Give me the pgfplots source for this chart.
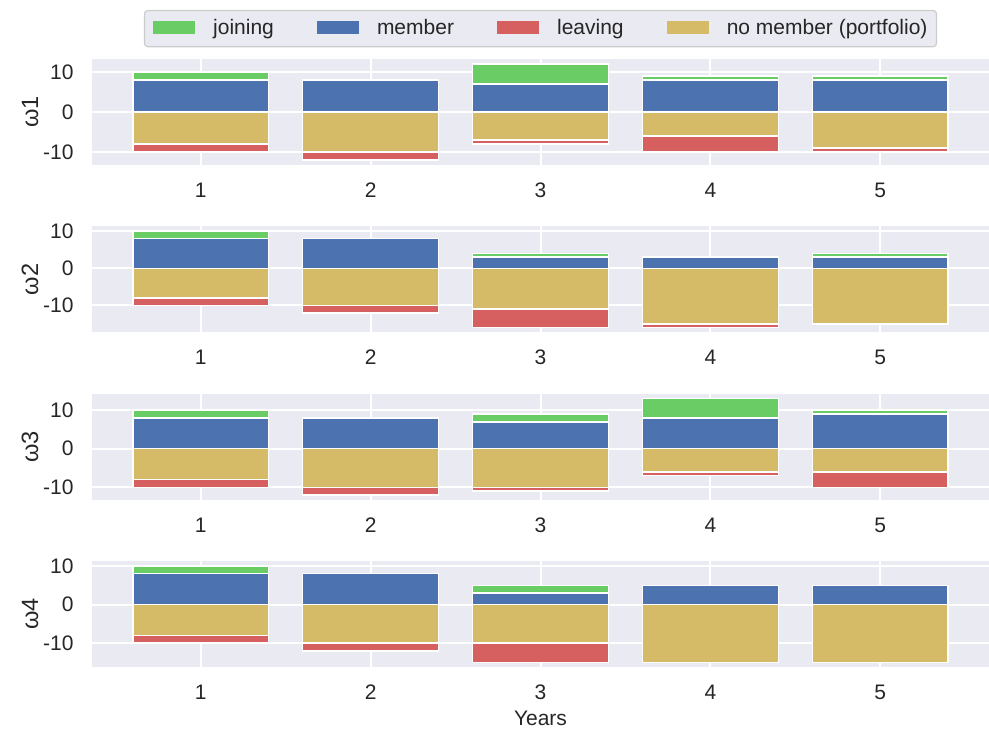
\documentclass[border=0pt]{standalone}
\usepackage{pgfplots}
\pgfplotsset{compat=1.18}
\usepackage{pgfplotstable}
\usepackage{fontspec}
\setmainfont{Liberation Sans}
\definecolor{bg}{HTML}{EAEAF2}
\definecolor{cjoin}{HTML}{6ACC64}
\definecolor{cmem}{HTML}{4C72B0}
\definecolor{cleave}{HTML}{D65F5F}
\definecolor{cnon}{HTML}{D5BB67}
\definecolor{txt}{HTML}{262626}
\definecolor{lgray}{HTML}{CCCCCC}

\pgfplotstableread{
year member joining nomember leaving
1 8 2 8 2
2 8 0 10 2
3 7 5 7 1
4 8 1 6 4
5 8 1 9 1
}\wone
\pgfplotstableread{
year member joining nomember leaving
1 8 2 8 2
2 8 0 10 2
3 3 1 11 5
4 3 0 15 1
5 3 1 15 0
}\wtwo
\pgfplotstableread{
year member joining nomember leaving
1 8 2 8 2
2 8 0 10 2
3 7 2 10 1
4 8 5 6 1
5 9 1 6 4
}\wthree
\pgfplotstableread{
year member joining nomember leaving
1 8 2 8 2
2 8 0 10 2
3 3 2 10 5
4 5 0 15 0
5 5 0 15 0
}\wfour

\newcommand{\fs}{\fontsize{10.5}{12.6}\selectfont}
\newcommand{\fl}{\fontsize{11.8}{14}\selectfont}

\pgfplotsset{
  seg/.style={ybar, bar width=0.8, bar shift=0pt, draw=white, line width=0.75pt,
    legend image code/.code={\path[##1, draw=none, sharp corners] (0pt,0.4pt) rectangle (21pt,6.9pt);}},
  panel/.style={
    anchor=north west,
    scale only axis, width=448.5pt, height=53pt,
    xmin=0.36, xmax=5.64,
    xtick={1,2,3,4,5}, xticklabels={1,2,3,4,5},
    ytick={-10,0,10}, yticklabels={-10,0,10},
    major tick length=0pt,
    axis line style={draw=none},
    axis background/.style={fill=bg},
    grid=major, major grid style={white, line width=1pt},
    tick label style={font=\fs, text=txt},
    yticklabel style={anchor=east, inner sep=0pt, xshift=-9pt},
    xticklabel style={anchor=center, inner sep=0pt, yshift=-12.6pt},
    ylabel style={at={(axis description cs:-0.069,0.5)}, anchor=center, font=\fl, text=txt, inner sep=0pt},
    xlabel style={at={(axis description cs:0.5,0)}, anchor=center, yshift=-25.5pt, font=\fs, text=txt, inner sep=0pt},
  },
}

\newcommand{\bars}[1]{%
  \addplot[seg, fill=cjoin] table[x=year, y expr=\thisrow{member}+\thisrow{joining}] {#1};
  \addplot[seg, fill=cmem] table[x=year, y=member] {#1};
  \addplot[seg, fill=cleave] table[x=year, y expr=-\thisrow{nomember}-\thisrow{leaving}] {#1};
  \addplot[seg, fill=cnon] table[x=year, y expr=-\thisrow{nomember}] {#1};
}

\begin{document}
\begin{tikzpicture}
\path[use as bounding box] (0,0) rectangle (494.5pt,-364.5pt);

\begin{axis}[panel, at={(46pt,-29.5pt)}, ylabel={ω1}, ymin=-13.2, ymax=13.2,
  legend columns=4, legend cell align=left,
  legend style={at={(0.5,1)}, anchor=south, yshift=5.85pt, fill=bg, draw=lgray, line width=0.6pt,
    rounded corners=1.7pt, inner xsep=4.5pt, inner ysep=4.5pt, font=\fs, text=txt,
    cells={anchor=base west}, nodes={inner sep=0pt},
    /tikz/column sep=8.85pt, /tikz/every even column/.append style={column sep=21.7pt}}]
\bars{\wone}
\legend{joining, member, leaving, no member (portfolio)}
\end{axis}

\begin{axis}[panel, at={(46pt,-113.2pt)}, ylabel={ω2}, ymin=-17.3, ymax=11.3]
\bars{\wtwo}
\end{axis}

\begin{axis}[panel, at={(46pt,-196.9pt)}, ylabel={ω3}, ymin=-13.25, ymax=14.25]
\bars{\wthree}
\end{axis}

\begin{axis}[panel, at={(46pt,-280.6pt)}, ylabel={ω4}, ymin=-16.25, ymax=11.25, xlabel={Years}]
\bars{\wfour}
\end{axis}
\end{tikzpicture}
\end{document}
